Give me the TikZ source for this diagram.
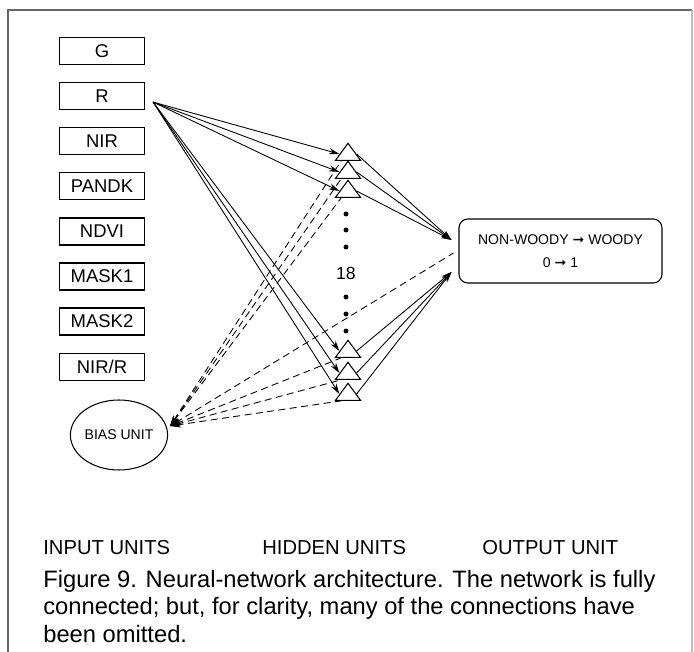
\documentclass[tikz,border=0pt]{standalone}
\usepackage{fontspec}
\setmainfont{Liberation Sans}
\newfontfamily\symfont{DejaVu Sans}
\usetikzlibrary{arrows.meta,calc,shapes.geometric}
\newcommand{\rarr}{{\symfont ➞}}
\tikzset{
  % node styles (input boxes, hidden units, output box)
  inbox/.style={draw,line width=0.7pt,minimum width=1.7cm,minimum height=0.54cm,inner sep=0pt,
    font=\fontsize{10.5}{12}\selectfont},
  hidden/.style={draw,line width=0.6pt,isosceles triangle,shape border rotate=90,
    isosceles triangle stretches,inner sep=0pt,minimum width=0.5cm,minimum height=0.34cm},
  biasunit/.style={draw,line width=0.6pt,ellipse,minimum width=1.88cm,minimum height=1.4cm,
    inner sep=0pt,font=\fontsize{8}{10}\selectfont},
  outbox/.style={draw,line width=0.6pt,rounded corners=5pt,minimum width=4.06cm,minimum height=1.28cm,
    align=center,font=\fontsize{8}{13}\selectfont},
  dot/.style={circle,fill=black,inner sep=0pt,minimum size=2.8pt},
  layerlabel/.style={anchor=west,inner sep=0pt,font=\fontsize{11.5}{13}\selectfont},
  % connector styles
  link/.style={line width=0.5pt,-{Stealth[length=6pt,width=3.5pt]}},
  biaslink/.style={line width=0.5pt,dashed,dash pattern=on 4pt off 2.5pt,{Stealth[length=6pt,width=3.5pt]}-},
  frame/.style={line width=1pt,black!60},
}
\begin{document}
\begin{tikzpicture}[x=0.02cm,y=-0.02cm]
  \useasboundingbox (0,0) rectangle (694,652);
  \draw[frame] (8,652) -- (8,10) -- (692,10);
  \draw[frame,black!25] (692,10) -- (692,652);

  % input units
  \foreach \txt [count=\i] in {G,R,NIR,PANDK,NDVI,MASK1,MASK2,NIR/R}
    \node[inbox] (in\i) at (102,{51+45.1*(\i-1)}) {\txt};
  \node[biasunit] (bias) at (119,435) {BIAS UNIT};

  % hidden units
  \foreach \yy [count=\i] in {154,172,191,351,373,394}
    \node[hidden] (h\i) at (348,\yy) {};
  \foreach \yy [count=\i] in {214,230,247,297,314,331}
    \node[dot] (d\i) at (346,\yy) {};
  \node[font=\fontsize{10}{12}\selectfont] (nh) at (346,273) {18};

  % output unit
  \node[outbox] (out) at (560.5,251) {NON-WOODY \rarr{} WOODY\\0 \rarr{} 1};

  \coordinate (rout) at ($(in2.east)+(8,6)$);
  \coordinate (bin) at ($(bias.east)+(2,-9)$);
  \coordinate (oup) at ($(out.west)+(-7,-11)$);
  \coordinate (olow) at ($(out.west)+(-7,21)$);
  \coordinate (obias) at ($(out.west)+(-5,2)$);

  % connections
  \foreach \i in {1,...,6} \draw[link] (rout) -- (h\i.west);
  \foreach \i in {1,2,3} \draw[link] (h\i.east) -- (oup);
  \foreach \i in {4,5,6} \draw[link] (h\i.east) -- (olow);
  \foreach \i in {1,...,6} \draw[biaslink] (bin) -- (h\i.south west);
  \draw[biaslink] (bin) -- (obias);

  % layer labels and caption
  \node[layerlabel] (lin) at (43,548) {INPUT UNITS};
  \node[layerlabel] (lhid) at (262,548) {HIDDEN UNITS};
  \node[layerlabel] (lout) at (482,548) {OUTPUT UNIT};
  \node[anchor=north west,inner sep=0pt,align=left,font=\fontsize{13.5}{15.5}\selectfont] (cap) at (43,570)
    {Figure 9. Neural-network architecture. The network is fully\\
     connected; but, for clarity, many of the connections have\\
     been omitted.};
\end{tikzpicture}
\end{document}
